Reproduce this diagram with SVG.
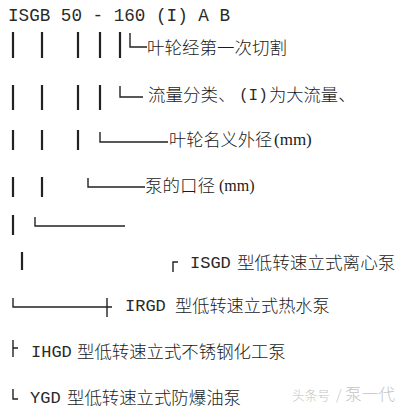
<svg xmlns="http://www.w3.org/2000/svg" width="408" height="409" viewBox="0 0 408 409">
<style>
.cn{font-family:"Noto Sans CJK SC","Noto Sans",sans-serif;font-weight:300;fill:#1a1a1a;}
.mo{font-family:"Liberation Mono","DejaVu Sans Mono",monospace;fill:#2a2a2a;}
.se{font-family:"Liberation Serif","DejaVu Serif",serif;fill:#1a1a1a;}
.pipe{stroke:#222;stroke-width:2.2;fill:none;}
.cor{stroke:#222;stroke-width:1.4;fill:none;}
.wm{font-family:"Noto Sans CJK SC",sans-serif;font-weight:300;fill:#c4c4c4;}
</style>
<rect width="408" height="409" fill="#ffffff"/>
<g id="connectors">
  <path class="pipe" d="M13 32V58M42 32V58M78 32V58M100 32V58M120 32V58"/>
  <path class="pipe" d="M13 85V110M42 85V110M78 85V110M100 85V110"/>
  <path class="pipe" d="M13 130V150M42 130V150M78 130V150"/>
  <path class="pipe" d="M13 177V197M42 177V197"/>
  <path class="pipe" d="M13 215V235"/>
  <path class="pipe" d="M22 252V270"/>
  <path class="cor" d="M130 33V47H147"/>
  <path class="cor" d="M120 86V97H143"/>
  <path class="cor" d="M100 132V142H168"/>
  <path class="cor" d="M88 178V187H145"/>
  <path class="cor" d="M35 217V226H125"/>
  <path class="cor" d="M173 272V262H178"/>
  <path class="cor" d="M13 298V307H112M107 298V317"/>
  <path class="cor" d="M13 340V357M13 348H18"/>
  <path class="cor" d="M13 389V399H18"/>
</g>
<g id="code">
  <text class="mo" x="8" y="21" font-size="17.5" textLength="222" lengthAdjust="spacingAndGlyphs">ISGB 50 - 160 (I) A B</text>
</g>
<g id="cutting">
  <text class="cn" x="147" y="54" font-size="17.5" textLength="140" lengthAdjust="spacingAndGlyphs">叶轮经第一次切割</text>
</g>
<g id="flow">
  <text class="cn" x="148" y="101" font-size="17.5">流量分类、</text>
  <text class="mo" x="239" y="100" font-size="16">(I)</text>
  <text class="cn" x="269" y="101" font-size="17.3">为大流量、</text>
</g>
<g id="impeller">
  <text class="cn" x="169" y="146" font-size="17.2">叶轮名义外径</text>
  <text class="se" x="274" y="145" font-size="17">(mm)</text>
</g>
<g id="bore">
  <text class="cn" x="145" y="192" font-size="17.5">泵的口径</text>
  <text class="se" x="219" y="191" font-size="16">(mm)</text>
</g>
<g id="isgd">
  <text class="mo" x="190" y="268" font-size="17">ISGD</text>
  <text class="cn" x="237" y="269" font-size="17.6">型低转速立式离心泵</text>
</g>
<g id="irgd">
  <text class="mo" x="125" y="311" font-size="17">IRGD</text>
  <text class="cn" x="175" y="312" font-size="17.2">型低转速立式热水泵</text>
</g>
<g id="ihgd">
  <text class="mo" x="31" y="357" font-size="17">IHGD</text>
  <text class="cn" x="77" y="358" font-size="17.4">型低转速立式不锈钢化工泵</text>
</g>
<g id="ygd">
  <text class="mo" x="30" y="403" font-size="17">YGD</text>
  <text class="cn" x="67" y="404" font-size="17.4">型低转速立式防爆油泵</text>
</g>
<g id="watermark">
  <text class="wm" x="292" y="400" font-size="13" textLength="38" lengthAdjust="spacingAndGlyphs">头条号</text>
  <text class="wm" x="336" y="400" font-size="14">/</text>
  <text class="wm" x="345" y="400" font-size="16" textLength="50" lengthAdjust="spacingAndGlyphs">泵一代</text>
</g>
</svg>
